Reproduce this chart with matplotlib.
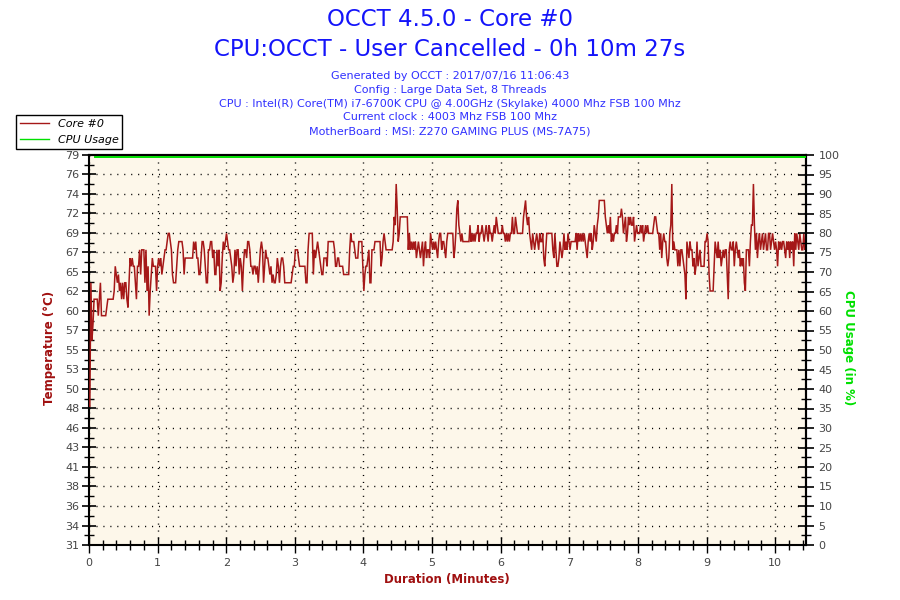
import numpy as np
import matplotlib
matplotlib.use("Agg")
import matplotlib.pyplot as plt
from matplotlib.ticker import MultipleLocator, FixedLocator
from matplotlib.lines import Line2D

# ---------------- data ----------------
title_main = "OCCT 4.5.0 - Core #0"
title_sub = "CPU:OCCT - User Cancelled - 0h 10m 27s"
info_lines = [
    "Generated by OCCT : 2017/07/16 11:06:43",
    "Config : Large Data Set, 8 Threads",
    "CPU : Intel(R) Core(TM) i7-6700K CPU @ 4.00GHz (Skylake) 4000 Mhz FSB 100 Mhz",
    "Current clock : 4003 Mhz FSB 100 Mhz",
    "MotherBoard : MSI: Z270 GAMING PLUS (MS-7A75)",
]
duration_s = 627  # 10m 27s

# temperature readings (deg C), three consecutive stretches of the run
seg_bounds_s = [(0, 214), (214, 427), (427, 627)]
temp_seg1 = [48, 63, 56, 58, 61, 61, 61, 61, 59, 61,
             63, 59, 59, 59, 59, 59, 60, 61, 61, 61,
             61, 61, 61, 62, 65, 64, 63, 64, 62, 63,
             61, 63, 61, 63, 63, 61, 60, 63, 66, 65,
             66, 65, 65, 63, 61, 65, 65, 67, 64, 67,
             67, 67, 63, 67, 62, 65, 59, 62, 64, 66,
             65, 65, 65, 62, 65, 66, 65, 66, 64, 65,
             66, 67, 67, 68, 69, 69, 68, 67, 64, 63,
             63, 63, 65, 67, 68, 68, 68, 68, 67, 64,
             66, 66, 66, 66, 66, 66, 66, 66, 68, 67,
             68, 66, 66, 64, 64, 66, 68, 68, 67, 65,
             63, 63, 67, 67, 68, 68, 66, 67, 64, 64,
             67, 65, 67, 62, 63, 66, 68, 67, 68, 69,
             68, 67, 67, 66, 65, 63, 64, 67, 65, 67,
             67, 64, 66, 65, 62, 65, 67, 67, 66, 68,
             68, 67, 65, 65, 64, 65, 65, 64, 65, 63,
             65, 67, 68, 67, 63, 65, 67, 66, 66, 65,
             64, 65, 63, 64, 63, 63, 64, 66, 65, 63,
             65, 66, 66, 65, 63, 63, 63, 63, 63, 63,
             63, 64, 65, 65, 67, 67, 67, 66, 65, 65,
             65, 65, 65, 65, 63, 63, 67, 69, 69, 69,
             69, 64, 67, 66, 67, 68, 67, 66, 65, 64,
             64, 66, 66, 66, 65, 68, 68, 68, 68, 68, 68]
temp_seg2 = [67, 65, 65, 66, 66, 65, 65, 65, 65, 64, 64, 64, 64, 64, 64,
             67, 69, 68, 68, 68, 67, 66, 66, 66, 68, 68, 68, 68, 65, 62,
             64, 65, 65, 66, 67, 63, 63, 67, 67, 67, 68, 68, 68, 68, 68, 68,
             65, 66, 68, 69, 68, 67, 67, 67, 67, 67, 67, 67, 68, 71, 70,
             75, 72, 68, 69, 71, 71, 71, 71, 71, 71, 71, 71, 67, 69, 67,
             68, 67, 68, 67, 68, 66, 67, 68, 67, 66, 67, 68, 65, 67, 68,
             66, 67, 67, 66, 69, 68, 67, 68, 67, 68, 67, 66, 68, 69, 69,
             67, 68, 68, 67, 66, 68, 69, 69, 69, 69, 69, 69, 66, 67, 69,
             72, 73, 70, 69, 68, 69, 68, 68, 68, 68, 68, 68, 68, 70, 68,
             69, 68, 69, 68, 69, 69, 70, 68, 69, 69, 70, 69, 68, 69, 70,
             69, 68, 70, 69, 69, 68, 69, 70, 69, 71, 70, 69, 69, 69, 69,
             70, 69, 69, 68, 69, 68, 69, 68, 69, 69, 71, 69, 69, 71, 70,
             69, 69, 69, 69, 69, 69, 71, 72, 73, 71, 70, 71, 69, 68, 67,
             69, 68, 67, 68, 69, 68, 67, 69, 68, 68, 69, 66, 65, 67, 69,
             69, 69, 69, 69, 69, 67, 66, 69, 67, 65, 65, 66, 68, 67, 66,
             67, 69, 67, 68, 67, 69, 68, 67, 68, 68, 68, 68, 68, 69, 67]
temp_seg3 = [69, 68, 69, 68, 69, 68, 69, 68, 67, 66, 68, 69, 68, 69, 67,
             68, 70, 69, 68, 70, 71, 73, 73, 73, 73, 73, 73, 71, 70, 69,
             70, 69, 71, 68, 69, 68, 69, 69, 70, 69, 71, 71, 71, 72, 71,
             69, 70, 71, 68, 69, 71, 70, 71, 70, 70, 71, 68, 69, 70, 69,
             69, 69, 70, 69, 70, 68, 69, 70, 69, 70, 69, 69, 69, 69, 69,
             70, 71, 71, 70, 69, 69, 67, 69, 66, 68, 69, 68, 68, 66, 65,
             66, 69, 70, 75, 67, 68, 67, 67, 67, 65, 67, 65, 67, 67, 66,
             65, 64, 61, 68, 67, 66, 68, 67, 67, 65, 66, 64, 65, 68, 65,
             66, 67, 65, 65, 65, 65, 68, 68, 69, 68, 64, 62, 62, 62, 62,
             65, 68, 67, 66, 68, 66, 67, 65, 66, 67, 66, 67, 67, 64, 61,
             67, 68, 67, 67, 68, 65, 67, 68, 67, 66, 67, 65, 66, 65, 66,
             63, 62, 67, 67, 67, 65, 68, 70, 70, 75, 70, 67, 69, 66, 68,
             69, 67, 68, 69, 67, 68, 69, 67, 67, 69, 69, 67, 68, 69, 68,
             67, 68, 67, 65, 68, 67, 68, 67, 68, 68, 67, 66, 68, 67, 68,
             66, 68, 67, 68, 65, 69, 67, 69, 68, 67, 69, 68, 67, 67, 69,
             67, 68]
temp_segments = [temp_seg1, temp_seg2, temp_seg3]

cpu_time_s = [5, 627]
cpu_usage = [99.6, 99.6]

temp_tick_labels = ['31', '34', '36', '38', '41', '43', '46', '48', '50', '53', '55',
                    '57', '60', '62', '65', '67', '69', '72', '74', '76', '79']
pct_ticks = list(range(0, 101, 5))
minute_ticks = list(range(0, 11))

# ---------------- styling ----------------
TMIN, TMAX = 31.14, 78.52
red = '#A51818'
green = '#00E000'
blue_title = '#1414FA'
blue_info = '#3030FF'
label_red = '#A01010'
tick_grey = '#454545'

fig = plt.figure(figsize=(9, 6), dpi=100)
fig.patch.set_facecolor('white')
ax = fig.add_axes([89 / 900, 1 - 545 / 600, (806 - 89) / 900, (545 - 155) / 600])
ax.set_facecolor('#FDF7EA')
ax2 = ax.twinx()

# temperature line
t_all, y_all = [], []
for (s0, s1), seg in zip(seg_bounds_s, temp_segments):
    tt = np.linspace(s0, s1, len(seg), endpoint=False)
    t_all.extend(tt / 60.0)
    y_all.extend(seg)
ax.plot(np.array(t_all) + 0.012, y_all, color=red, lw=1.1, zorder=3,
        solid_joinstyle='miter', clip_on=False)

ax2.plot(np.array(cpu_time_s) / 60.0, cpu_usage, color=green, lw=1.4, zorder=3)

ax.set_xlim(0, duration_s / 60.0)
ax.set_ylim(TMIN, TMAX)
ax2.set_ylim(0, 100)

# ticks
temp_tick_pos = [TMIN + p / 100 * (TMAX - TMIN) for p in pct_ticks]
ax.yaxis.set_major_locator(FixedLocator(temp_tick_pos))
ax.set_yticklabels(temp_tick_labels)
ax.yaxis.set_minor_locator(FixedLocator([TMIN + (p + 2.5) / 100 * (TMAX - TMIN) for p in pct_ticks[:-1]]))
ax2.yaxis.set_major_locator(FixedLocator(pct_ticks))
ax2.yaxis.set_minor_locator(MultipleLocator(2.5))
ax.xaxis.set_major_locator(FixedLocator(minute_ticks))
ax.xaxis.set_minor_locator(MultipleLocator(0.2))

ax.tick_params(axis='y', which='major', direction='inout', length=10, width=1.2,
               labelsize=8, labelcolor=tick_grey, pad=2)
ax.tick_params(axis='y', which='minor', direction='inout', length=7, width=1.0)
ax.tick_params(axis='x', which='major', direction='inout', length=12, width=1.0,
               labelsize=8, labelcolor=tick_grey, pad=3)
ax.tick_params(axis='x', which='minor', direction='inout', length=7, width=1.0)
ax2.tick_params(axis='y', which='major', direction='inout', length=12, width=1.2,
                labelsize=8, labelcolor=tick_grey, pad=3)
ax2.tick_params(axis='y', which='minor', direction='inout', length=7, width=1.0)

for a in (ax, ax2):
    for sp in a.spines.values():
        sp.set_color('black')
        sp.set_linewidth(1.5)
ax2.spines['left'].set_visible(False)
ax2.spines['bottom'].set_visible(False)
for sp in ax.spines.values():
    sp.set_zorder(2.4)

# grid (dotted)
ax.grid(True, which='major', axis='both', color='black', linestyle=(0, (0.8, 4.2)), lw=1.0)
ax.set_axisbelow(True)

# titles
fig.text(0.5, 1 - 20 / 600, title_main, ha='center', va='center', fontsize=16.5, color=blue_title)
fig.text(0.5, 1 - 50 / 600, title_sub, ha='center', va='center', fontsize=16.5, color=blue_title)
for i, line in enumerate(info_lines):
    fig.text(0.5, 1 - (76 + i * 13.8) / 600, line, ha='center', va='center', fontsize=8, color=blue_info)

# axis labels
fig.text(50 / 900, 1 - 348 / 600, 'Temperature (°C)', rotation=90, ha='center', va='center',
         fontsize=8.5, fontweight='bold', color=label_red)
fig.text(848 / 900, 1 - 348 / 600, 'CPU Usage (in %)', rotation=-90, ha='center', va='center',
         fontsize=8.5, fontweight='bold', color=green)
fig.text(447 / 900, 1 - 580 / 600, 'Duration (Minutes)', ha='center', va='center',
         fontsize=8.5, fontweight='bold', color=label_red)

# legend
handles = [Line2D([], [], color=red, lw=1.0), Line2D([], [], color=green, lw=1.0)]
leg = fig.legend(handles, ['Core #0', 'CPU Usage'], loc='upper left',
                 bbox_to_anchor=(16 / 900, 1 - 115 / 600), borderaxespad=0,
                 frameon=True, fancybox=False, edgecolor='black', framealpha=1,
                 prop={'style': 'italic', 'size': 8}, handlelength=2.6,
                 labelspacing=0.55, borderpad=0.35, handletextpad=0.8)
leg.get_frame().set_linewidth(1.0)
leg.set_zorder(10)

fig.savefig('out.png', dpi=100)
